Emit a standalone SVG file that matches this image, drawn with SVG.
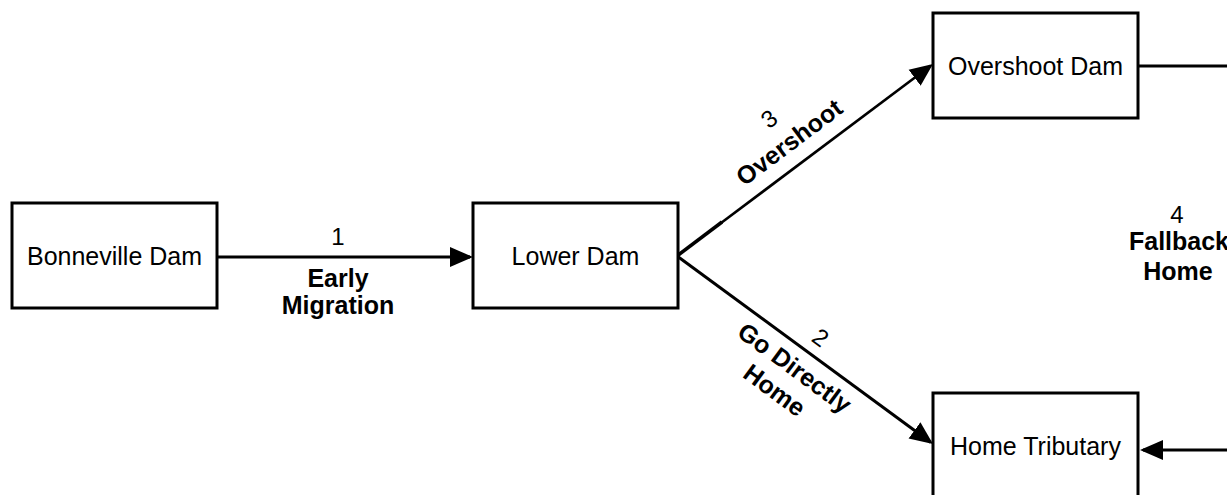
<svg xmlns="http://www.w3.org/2000/svg" width="1227" height="495" viewBox="0 0 1227 495">
  <style>
    .box { fill: #ffffff; stroke: #000000; stroke-width: 3; }
    .name { font-family: "Liberation Sans", Arial, sans-serif; font-size: 25px; fill: #000000; text-anchor: middle; }
    .num { font-family: "Liberation Sans", Arial, sans-serif; font-size: 24px; fill: #000000; text-anchor: middle; }
    .lbl { font-family: "Liberation Sans", Arial, sans-serif; font-size: 25px; font-weight: bold; fill: #000000; text-anchor: middle; }
    .edge { fill: none; stroke: #000000; stroke-width: 3; }
  </style>
  <defs>
    <marker id="head" markerUnits="userSpaceOnUse" markerWidth="24" markerHeight="22" viewBox="0 0 24 22" refX="20" refY="11" orient="auto">
      <path d="M0,1 L23,11 L0,21 Z" fill="#000000"/>
    </marker>
  </defs>

  <rect width="1227" height="495" fill="#ffffff"/>

  <!-- connectors -->
  <g id="connectors">
    <!-- 1: Bonneville -> Lower -->
    <line class="edge" x1="217" y1="257" x2="470" y2="257" marker-end="url(#head)"/>
    <!-- 3: Lower -> Overshoot -->
    <line class="edge" x1="677" y1="256" x2="722" y2="222" style="stroke-width:3.5"/>
    <line class="edge" x1="721" y1="223" x2="930.6" y2="65.8" style="stroke-width:2.6" marker-end="url(#head)"/>
    <!-- 2: Lower -> Home Tributary -->
    <line class="edge" x1="677" y1="256" x2="930.6" y2="442.2" marker-end="url(#head)"/>
    <!-- 4: Overshoot -> Home Tributary (fallback loop) -->
    <line class="edge" x1="1138" y1="66" x2="1227" y2="66"/>
    <line class="edge" x1="1227" y1="450" x2="1143" y2="450" marker-end="url(#head)"/>

    <!-- labels -->
    <g id="label-1">
      <text class="num" x="338" y="245">1</text>
      <text class="lbl" x="338" y="287">Early</text>
      <text class="lbl" x="338" y="314">Migration</text>
    </g>
    <g id="label-3" transform="translate(677,256) rotate(-36.9)">
      <text class="num" x="156" y="-46">3</text>
      <text class="lbl" x="158" y="-15">Overshoot</text>
    </g>
    <g id="label-2" transform="translate(677,256) rotate(36.3)">
      <text class="num" x="164" y="-11">2</text>
      <text class="lbl" x="161" y="29">Go Directly</text>
      <text class="lbl" x="158" y="59">Home</text>
    </g>
    <g id="label-4">
      <text class="num" x="1177" y="223">4</text>
      <text class="lbl" x="1179" y="250">Fallback</text>
      <text class="lbl" x="1178" y="280">Home</text>
    </g>
  </g>

  <g id="node-bonneville">
    <rect class="box" x="12" y="203" width="205" height="105"/>
    <text class="name" x="114.5" y="265">Bonneville Dam</text>
  </g>
  <g id="node-lower">
    <rect class="box" x="473" y="203" width="205" height="105"/>
    <text class="name" x="575.5" y="265">Lower Dam</text>
  </g>
  <g id="node-overshoot">
    <rect class="box" x="933" y="13" width="205" height="105"/>
    <text class="name" x="1035.5" y="75">Overshoot Dam</text>
  </g>
  <g id="node-home">
    <rect class="box" x="933" y="393" width="205" height="105"/>
    <text class="name" x="1035.5" y="455">Home Tributary</text>
  </g>
</svg>
